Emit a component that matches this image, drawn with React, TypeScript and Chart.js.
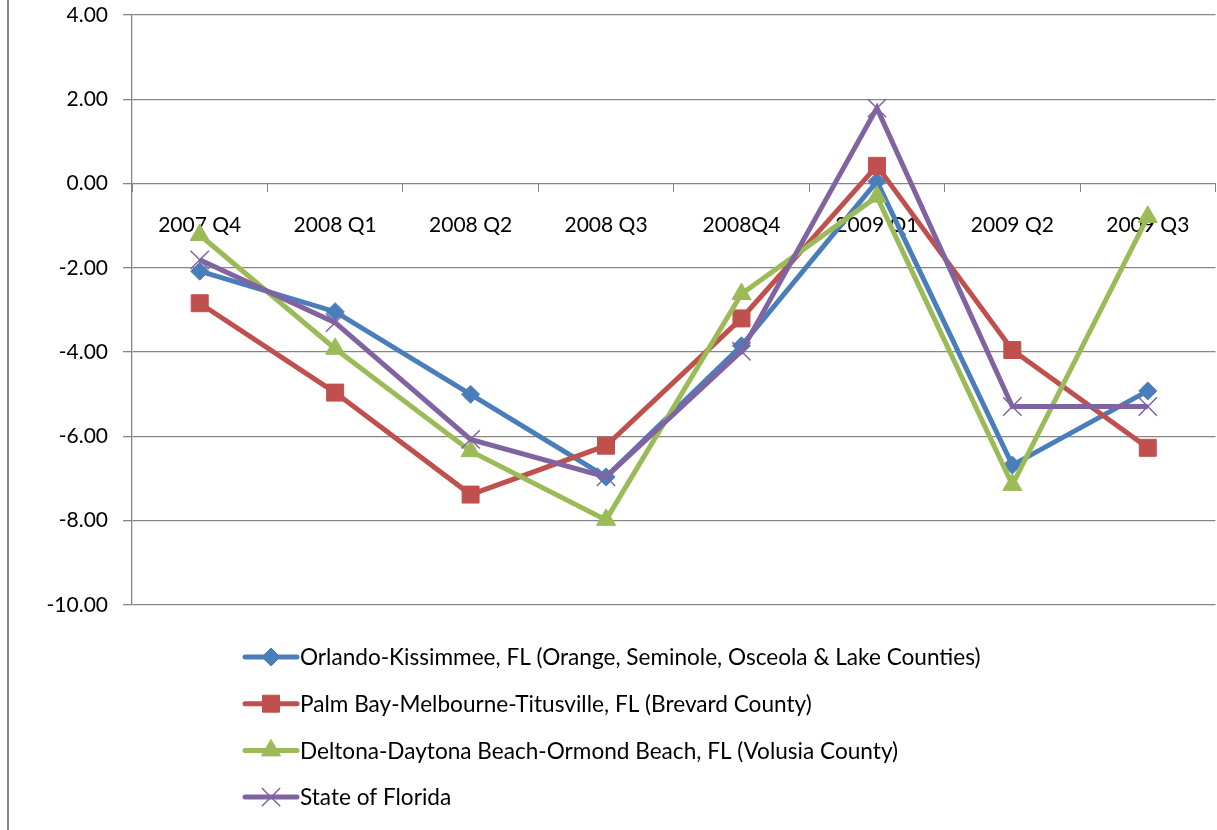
import React, { useEffect, useRef } from "react";
import { Chart, registerables } from "chart.js";

Chart.register(...registerables);

const categories = ["2007 Q4", "2008 Q1", "2008 Q2", "2008 Q3", "2008Q4", "2009 Q1", "2009 Q2", "2009 Q3"];
const orlando = [-2.08, -3.04, -5.0, -6.96, -3.85, 0.05, -6.68, -4.92];
const palmBay = [-2.84, -4.96, -7.38, -6.22, -3.2, 0.42, -3.95, -6.27];
const deltona = [-1.22, -3.92, -6.35, -7.98, -2.62, -0.31, -7.15, -0.79];
const florida = [-1.81, -3.3, -6.07, -6.96, -3.98, 1.79, -5.29, -5.29];
const seriesNames = [
  "Orlando-Kissimmee, FL (Orange, Seminole, Osceola & Lake Counties)",
  "Palm Bay-Melbourne-Titusville, FL (Brevard County)",
  "Deltona-Daytona Beach-Ormond Beach, FL (Volusia County)",
  "State of Florida",
];
const yMin = -10;
const yMax = 4;
const yStep = 2;

const FONT = "Lato, 'Noto Sans', sans-serif";
const GRID = "#868686";

function drawPoint(ctx: CanvasRenderingContext2D, style: string, r: number, x: number, y: number) {
  ctx.beginPath();
  if (style === "rectRot") {
    ctx.moveTo(x - r, y);
    ctx.lineTo(x, y - r);
    ctx.lineTo(x + r, y);
    ctx.lineTo(x, y + r);
    ctx.closePath();
    ctx.fill();
    ctx.stroke();
  } else if (style === "rect") {
    const s = Math.SQRT1_2 * r;
    ctx.rect(x - s, y - s, 2 * s, 2 * s);
    ctx.fill();
    ctx.stroke();
  } else if (style === "triangle") {
    let rad = 0;
    ctx.moveTo(x + Math.sin(rad) * r, y - Math.cos(rad) * r);
    rad += (2 * Math.PI) / 3;
    ctx.lineTo(x + Math.sin(rad) * r, y - Math.cos(rad) * r);
    rad += (2 * Math.PI) / 3;
    ctx.lineTo(x + Math.sin(rad) * r, y - Math.cos(rad) * r);
    ctx.closePath();
    ctx.fill();
    ctx.stroke();
  } else if (style === "crossRot") {
    const o = Math.SQRT1_2 * r;
    ctx.moveTo(x - o, y - o);
    ctx.lineTo(x + o, y + o);
    ctx.moveTo(x + o, y - o);
    ctx.lineTo(x - o, y + o);
    ctx.stroke();
  }
}

const legendPlugin = {
  id: "stackedLegend",
  afterDraw(chart: any) {
    const ctx = chart.ctx;
    ctx.save();
    // left frame line
    ctx.strokeStyle = GRID;
    ctx.lineWidth = 2;
    ctx.beginPath();
    ctx.moveTo(8, 0);
    ctx.lineTo(8, chart.height);
    ctx.stroke();

    const x0 = 245;
    const x1 = 297;
    const startY = 657;
    const gap = 46.7;
    chart.data.datasets.forEach((ds: any, i: number) => {
      const y = startY + i * gap;
      ctx.strokeStyle = ds.borderColor;
      ctx.lineWidth = 5;
      ctx.lineCap = "round";
      ctx.beginPath();
      ctx.moveTo(x0, y);
      ctx.lineTo(x1, y);
      ctx.stroke();
      ctx.lineCap = "butt";
      ctx.fillStyle = ds.pointBackgroundColor;
      ctx.strokeStyle = ds.pointBorderColor;
      ctx.lineWidth = ds.pointBorderWidth;
      drawPoint(ctx, ds.pointStyle, ds.pointRadius, (x0 + x1) / 2, y);
      ctx.fillStyle = "#000";
      ctx.font = `22.6px ${FONT}`;
      ctx.textBaseline = "middle";
      ctx.textAlign = "left";
      ctx.fillText(seriesNames[i], 300, y + 1);
    });
    ctx.restore();
  },
};

function makeDataset(label: string, data: number[], color: string, pointStyle: string, radius: number, order: number, pbw = 1) {
  return {
    label,
    data,
    borderColor: color,
    backgroundColor: color,
    borderWidth: 5,
    pointStyle,
    pointRadius: radius,
    pointBackgroundColor: color,
    pointBorderColor: color,
    pointBorderWidth: pbw,
    tension: 0,
    order,
  };
}

const CANVAS_W = 1230;

export default function App() {
  const ref = useRef<HTMLCanvasElement>(null);
  useEffect(() => {
    if (!ref.current) return;
    const chart = new Chart(ref.current, {
      type: "line",
      data: {
        labels: categories,
        datasets: [
          makeDataset(seriesNames[0], orlando, "#4A7EBB", "rectRot", 9, 4),
          makeDataset(seriesNames[1], palmBay, "#C0504D", "rect", 12, 3),
          makeDataset(seriesNames[2], deltona, "#9BBB59", "triangle", 11, 2),
          makeDataset(seriesNames[3], florida, "#8064A2", "crossRot", 13, 1, 1.5),
        ] as any,
      },
      options: {
        responsive: false,
        animation: false,
        events: [],
        layout: { padding: { left: 0, top: 15, right: 0, bottom: 225 } },
        plugins: {
          legend: { display: false },
          tooltip: { enabled: false },
        },
        scales: {
          x: {
            type: "category",
            offset: true,
            position: { y: 0 } as any,
            afterFit: (scale: any) => {
              scale.paddingLeft = 0;
              scale.paddingRight = 0;
              scale.paddingTop = 0;
              scale.paddingBottom = 0;
            },
            grid: {
              offset: true,
              drawOnChartArea: false,
              drawTicks: true,
              tickLength: 8,
              color: GRID,
            },
            border: { display: true, color: GRID, width: 1 },
            ticks: {
              color: "#000",
              font: { family: FONT, size: 21 },
              padding: 21,
              maxRotation: 0,
              autoSkip: false,
            },
          },
          y: {
            min: yMin,
            max: yMax,
            afterFit: (scale: any) => {
              scale.width = 132;
              scale.paddingTop = 0;
              scale.paddingBottom = 0;
              scale.paddingLeft = 0;
              scale.paddingRight = 0;
            },
            grid: { color: GRID, tickLength: 9, drawTicks: true, lineWidth: 1.3 },
            border: { display: true, color: GRID, width: 1.3 },
            ticks: {
              stepSize: yStep,
              color: "#000",
              padding: 15,
              font: { family: FONT, size: 21 },
              callback: (v: any) => Number(v).toFixed(2),
            },
          },
        },
      },
      plugins: [legendPlugin],
    });
    return () => chart.destroy();
  }, []);
  return (
    <div style={{ position: "absolute", left: 0, top: 0, width: 1217, height: 830, overflow: "hidden", background: "#fff" }}>
      <canvas ref={ref} width={CANVAS_W} height={830} style={{ width: CANVAS_W, height: 830, display: "block" }} />
    </div>
  );
}
